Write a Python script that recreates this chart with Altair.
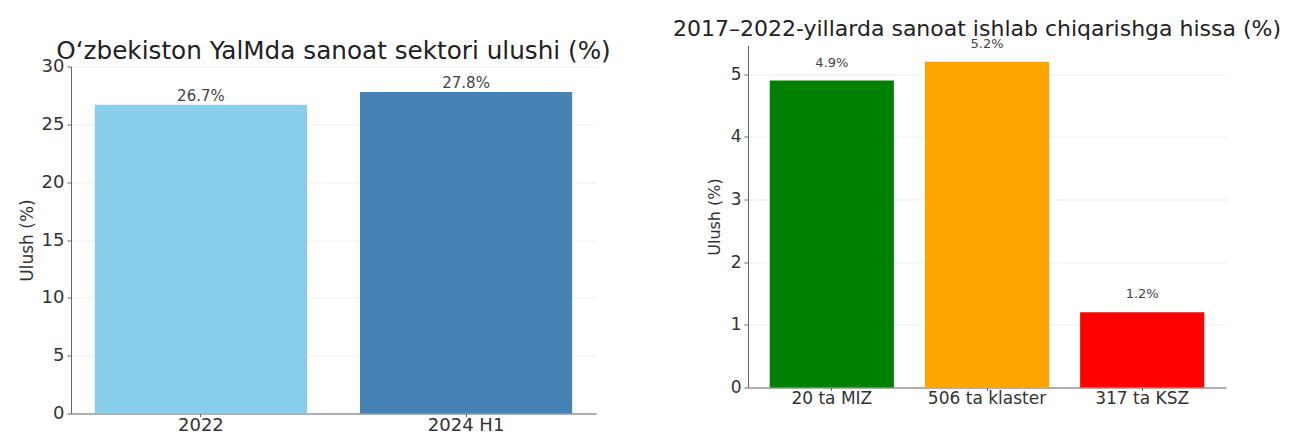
import altair as alt
import pandas as pd

FONT = "DejaVu Sans"

# Left panel data
left_cats = ["2022", "2024 H1"]
left_vals = [26.7, 27.8]
left_colors = ["#87CEEB", "#4682B4"]
left_title = "O\u2018zbekiston YalMda sanoat sektori ulushi (%)"
left_ticks = [0, 5, 10, 15, 20, 25, 30]

# Right panel data
right_cats = ["20 ta MIZ", "506 ta klaster", "317 ta KSZ"]
right_vals = [4.9, 5.2, 1.2]
right_colors = ["#008000", "#FFA500", "#FF0000"]
right_title = "2017\u20132022-yillarda sanoat ishlab chiqarishga hissa (%)"
right_ticks = [0, 1, 2, 3, 4, 5]


def panel(cats, vals, colors, title, ymax, ticks, width, height, pad_outer,
          label_dy, tick_fs, ytitle_fs, value_fs, title_pad):
    df = pd.DataFrame({"cat": cats, "val": vals, "col": colors,
                       "label": [f"{v}%" for v in vals]})
    x = alt.X(
        "cat:N", sort=cats, title=None,
        scale=alt.Scale(paddingInner=0.2, paddingOuter=pad_outer),
        axis=alt.Axis(labelAngle=0, labelFontSize=tick_fs, labelColor="#333333",
                      labelFont=FONT, domainColor="#666666", tickColor="#666666",
                      tickSize=3, grid=False, labelPadding=0),
    )
    y = alt.Y(
        "val:Q", title="Ulush (%)",
        scale=alt.Scale(domain=[0, ymax], nice=False, zero=True),
        axis=alt.Axis(values=ticks, format="d", labelFontSize=tick_fs,
                      labelColor="#333333", labelFont=FONT, titleFont=FONT,
                      titleFontSize=ytitle_fs, titleFontWeight="normal",
                      titleColor="#333333", domainColor="#666666",
                      tickColor="#666666", tickSize=4, gridColor="#eeeeee",
                      titlePadding=title_pad, labelPadding=3),
    )
    bars = alt.Chart(df).mark_bar().encode(
        x=x, y=y, color=alt.Color("col:N", scale=None),
    )
    text = alt.Chart(df).mark_text(
        baseline="bottom", dy=label_dy, fontSize=value_fs, color="#444444", font=FONT
    ).encode(x=alt.X("cat:N", sort=cats), y=alt.Y("val:Q"), text="label:N")
    return alt.layer(bars, text).properties(width=width, height=height, title=title)


left = panel(left_cats, left_vals, left_colors,
             alt.TitleParams(left_title, fontSize=24.7, font=FONT,
                             fontWeight="normal", color="#222222", offset=-6),
             30, left_ticks, 525, 347, 0.09, -1, 18, 17, 15, 5)
right = panel(right_cats, right_vals, right_colors,
              alt.TitleParams(right_title, fontSize=22, font=FONT, dx=-10,
                              fontWeight="normal", color="#222222", offset=-3),
              5.46, right_ticks, 478, 342, 0.14, -11, 17, 16, 13, 8)

spacer = alt.Chart(pd.DataFrame({"v": [0]})).mark_point(opacity=0).properties(
    width=1, height=1
)

left_col = alt.vconcat(spacer, left, spacing=-11)

chart = alt.hconcat(left_col, right, spacing=61).configure_view(
    stroke=None
).properties(padding={"left": 10, "top": 9.5, "right": 0, "bottom": 0})

chart.save("out.html", embed_options={"renderer": "svg", "actions": False})
